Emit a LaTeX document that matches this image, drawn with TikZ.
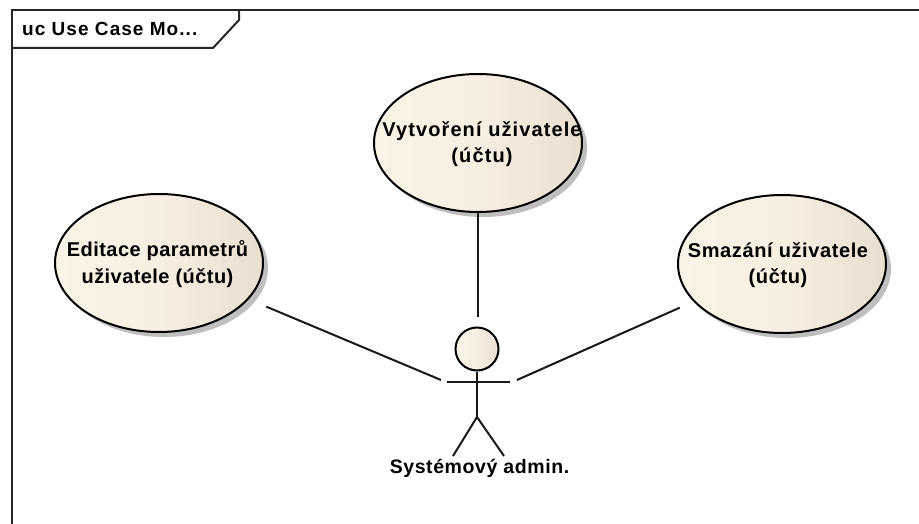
\documentclass[tikz,border=0pt]{standalone}
\usepackage{fontspec}
\setmainfont{Liberation Sans}
\usetikzlibrary{shapes.geometric}
\definecolor{ucl}{HTML}{FBF3E6}
\definecolor{ucm}{HTML}{F7EFE2}
\definecolor{ucr}{HTML}{E8DFD1}
\definecolor{shd}{HTML}{BFBFBF}
\newfontfamily\lsa[LetterSpace=5.5]{Liberation Sans}
\newfontfamily\lsb[LetterSpace=3]{Liberation Sans}
\newfontfamily\lsc[LetterSpace=2.2]{Liberation Sans}
\tikzset{
  line/.style={black!90, line width=2pt},
  frameline/.style={black!85, line width=2pt},
  usecase/.style={ellipse, draw=black, line width=2pt, left color=ucl, right color=ucr, middle color=ucm, minimum width=208pt, minimum height=138pt, inner sep=0pt},
  shadowell/.style={ellipse, fill=shd, draw=none, inner sep=0pt, minimum width=208pt, minimum height=138pt},
  uctext/.style={align=center, inner sep=0pt, font=\lsb\bfseries\fontsize{20}{26.5}\selectfont}
}
\begin{document}
\begin{tikzpicture}[x=1pt,y=-1pt]
\useasboundingbox (0,0) rectangle (919,524);
\fill[white] (0,0) rectangle (919,524);
% frame
\draw[frameline] (919,10.5) -- (11.5,10.5) -- (11.5,524);
\draw[frameline] (11.5,48) -- (213,48) -- (239,20) -- (239,10.5);
\node[anchor=west, font=\lsa\bfseries\fontsize{19}{22}\selectfont, inner sep=0pt] (title) at (22,29) {uc Use Case Mo...};
% shadows
\node[shadowell] at (483,148) {};
\node[shadowell] at (164,268) {};
\node[shadowell] at (787,269) {};
% use cases
\node[usecase] (create) at (478,143) {};
\node[usecase] (edit) at (159,263) {};
\node[usecase] (delete) at (782,264) {};
\node[uctext, font=\lsa\bfseries\fontsize{20}{26.5}\selectfont] (createT) at (482,144) {Vytvoření uživatele\\(účtu)};
\node[uctext, font=\lsc\bfseries\fontsize{20}{26.5}\selectfont] (editT) at (157.5,264) {Editace parametrů\\uživatele (účtu)};
\node[uctext] (deleteT) at (778,265) {Smazání uživatele\\(účtu)};
% actor
\node[circle, draw=black, line width=2pt, left color=ucl, right color=ucr, middle color=ucm, minimum size=43pt, inner sep=0pt] (head) at (477,349) {};
\coordinate (armL) at (447,382);
\coordinate (armR) at (510,382);
\coordinate (hip) at (477,417);
\coordinate (footL) at (453,456);
\coordinate (footR) at (504,456);
\draw[line] (head.south) -- (hip);
\draw[line] (armL) -- (armR);
\draw[line] (footL) -- (hip) -- (footR);
\node[font=\lsb\bfseries\fontsize{19.5}{22}\selectfont, inner sep=0pt] (admin) at (479.5,468) {Systémový admin.};
% connectors
\coordinate (inTop) at (478,317);
\coordinate (inLeft) at (441,380);
\coordinate (inRight) at (517,380);
\draw[line] (create.south) -- (inTop);
\draw[line, shorten <=19pt] (edit.-22.5) -- (inLeft);
\draw[line, shorten <=15pt] (delete.203) -- (inRight);
\end{tikzpicture}
\end{document}
